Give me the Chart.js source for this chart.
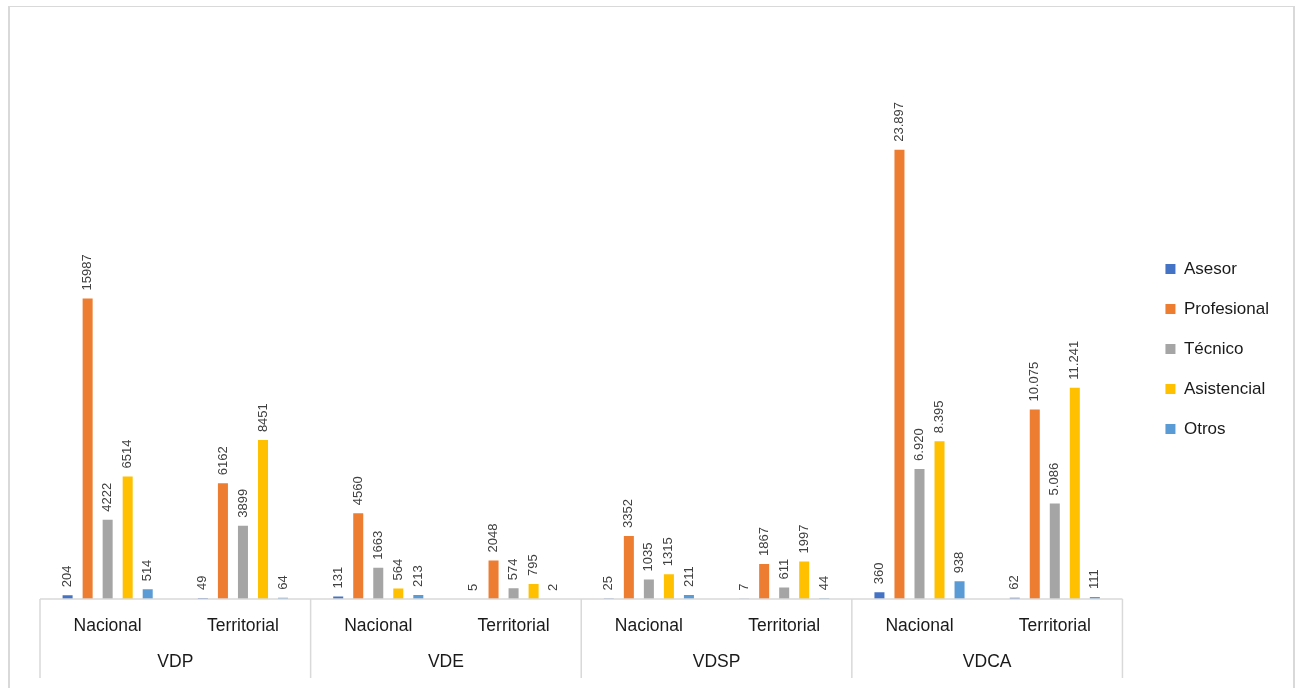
<!DOCTYPE html>
<html>
<head>
<meta charset="utf-8">
<script src="https://cdn.jsdelivr.net/npm/chart.js@4"></script>
<style>
  html, body { margin: 0; padding: 0; background: #fff; overflow: hidden; }
  #frame {
    position: absolute; left: 8px; top: 6px; width: 1283px; height: 720px;
    border-top: 1px solid #d9d9d9; border-left: 2px solid #d9d9d9; border-right: 2px solid #d9d9d9;
  }
  #wrap { position: absolute; left: 0; top: 0; width: 1298px; height: 688px; }
</style>
</head>
<body>
<div id="frame"></div>
<div id="wrap"><canvas id="chart"></canvas></div>
<script>
// categorías (dos niveles)
const subLabels = ['Nacional', 'Territorial', 'Nacional', 'Territorial', 'Nacional', 'Territorial', 'Nacional', 'Territorial']
const groupLabels = ['VDP', 'VDE', 'VDSP', 'VDCA']
const dottedGroups = ['VDCA'] // este grupo muestra separador de miles

// series
const seriesNames = ['Asesor', 'Profesional', 'Técnico', 'Asistencial', 'Otros']
const asesor      = [204, 49, 131, 5, 25, 7, 360, 62]
const profesional = [15987, 6162, 4560, 2048, 3352, 1867, 23897, 10075]
const tecnico     = [4222, 3899, 1663, 574, 1035, 611, 6920, 5086]
const asistencial = [6514, 8451, 564, 795, 1315, 1997, 8395, 11241]
const otros       = [514, 64, 213, 2, 211, 44, 938, 111]
const colors = ['#4472C4', '#ED7D31', '#A5A5A5', '#FFC000', '#5B9BD5']

const FONT = "'Liberation Sans', Arial, sans-serif"
const perGroup = subLabels.length / groupLabels.length

const fmt = (v, i) => {
  const g = groupLabels[Math.floor(i / perGroup)]
  if (!dottedGroups.includes(g)) return String(v)
  return String(v).replace(/\B(?=(\d{3})+(?!\d))/g, '.')
}

// etiquetas de datos verticales
const barLabels = {
  id: 'barLabels',
  afterDatasetsDraw(chart) {
    const ctx = chart.ctx
    ctx.save()
    ctx.font = '13px ' + FONT
    ctx.fillStyle = '#404040'
    ctx.textAlign = 'left'
    ctx.textBaseline = 'middle'
    chart.data.datasets.forEach((ds, di) => {
      chart.getDatasetMeta(di).data.forEach((bar, i) => {
        ctx.save()
        ctx.translate(bar.x, bar.y - 8)
        ctx.rotate(-Math.PI / 2)
        ctx.fillText(fmt(ds.data[i], i), 0, 0)
        ctx.restore()
      })
    })
    ctx.restore()
  }
}

// eje de categorías de dos niveles
const multiAxis = {
  id: 'multiAxis',
  afterDraw(chart) {
    const ctx = chart.ctx
    const x = chart.scales.x
    const area = chart.chartArea
    const step = x.getPixelForValue(1) - x.getPixelForValue(0)
    ctx.save()
    ctx.strokeStyle = '#d9d9d9'
    ctx.lineWidth = 1.5
    ctx.beginPath()
    ctx.moveTo(area.left, area.bottom)
    ctx.lineTo(area.right, area.bottom)
    for (let g = 0; g <= groupLabels.length; g++) {
      const px = x.getPixelForValue(g * perGroup) - step / 2
      ctx.moveTo(px, area.bottom)
      ctx.lineTo(px, area.bottom + 79)
    }
    ctx.stroke()

    ctx.fillStyle = '#1a1a1a'
    ctx.font = '17.5px ' + FONT
    ctx.textAlign = 'center'
    ctx.textBaseline = 'middle'
    subLabels.forEach((lab, i) => ctx.fillText(lab, x.getPixelForValue(i), area.bottom + 27))
    groupLabels.forEach((lab, g) => {
      const mid = (x.getPixelForValue(g * perGroup) + x.getPixelForValue(g * perGroup + perGroup - 1)) / 2
      ctx.fillText(lab, mid, area.bottom + 63)
    })
    ctx.restore()
  }
}

const seriesData = [asesor, profesional, tecnico, asistencial, otros]

new Chart(document.getElementById('chart'), {
  type: 'bar',
  data: {
    labels: subLabels,
    datasets: seriesNames.map((name, k) => ({
      label: name,
      data: seriesData[k],
      backgroundColor: colors[k],
      categoryPercentage: 0.74,
      barPercentage: 0.5,
    }))
  },
  options: {
    responsive: true,
    maintainAspectRatio: false,
    animation: false,
    layout: { padding: { left: 40, right: 19, top: 10, bottom: 0 } },
    plugins: {
      legend: {
        position: 'right',
        labels: {
          boxWidth: 10, boxHeight: 10, padding: 23,
          color: '#1a1a1a', font: { family: FONT, size: 17 }
        }
      },
      tooltip: { enabled: false }
    },
    scales: {
      x: {
        grid: { display: false },
        border: { display: false },
        ticks: { display: false },
        afterFit: s => { s.height = 89 }
      },
      xTop: {
        position: 'top',
        grid: { display: false },
        border: { display: false },
        ticks: { display: false },
        afterFit: s => { s.height = 25 }
      },
      y: {
        position: 'right',
        min: 0, max: 30000,
        grid: { display: false },
        border: { display: false },
        ticks: { display: false },
        afterFit: s => { s.width = 20 }
      }
    }
  },
  plugins: [barLabels, multiAxis]
})
</script>
</body>
</html>
